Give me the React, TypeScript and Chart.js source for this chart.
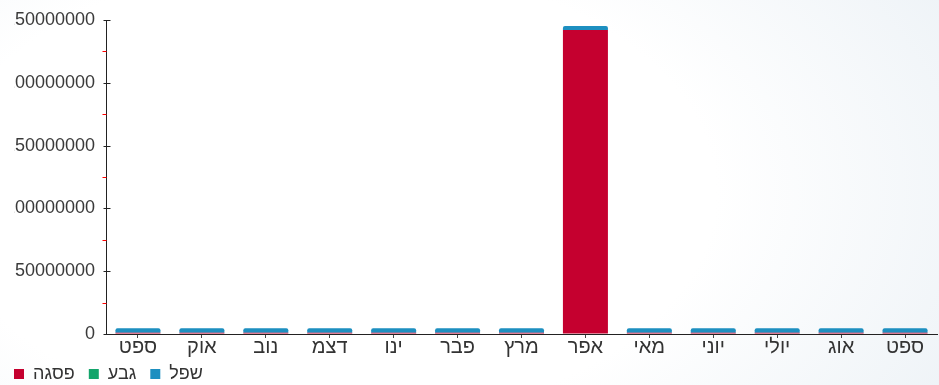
import React, { useEffect, useRef } from 'react';
import { Chart, registerables } from 'chart.js';

Chart.register(...registerables);

const months = ['ספט', 'אוק', 'נוב', 'דצמ', 'ינו', 'פבר', 'מרץ', 'אפר', 'מאי', 'יוני', 'יולי', 'אוג', 'ספט'];
const seriesLabels = ['פסגה', 'גבע', 'שפל'];
const peakValues = [1000000, 1000000, 1000000, 1000000, 1000000, 1000000, 1000000, 242000000, 1000000, 1000000, 1000000, 1000000, 1000000];
const shoulderValues = [0, 0, 0, 0, 0, 0, 0, 0, 0, 0, 0, 0, 0];
const offPeakValues = [3500000, 3500000, 3500000, 3500000, 3500000, 3500000, 3500000, 3300000, 3500000, 3500000, 3500000, 3500000, 3500000];
const yMax = 250000000;
const yStep = 25000000;
const yLabelStep = 50000000;

const seriesColors = ['#c5002f', '#13a56b', '#1d8fc0'];
const FONT = "'Liberation Sans', 'DejaVu Sans', sans-serif";
const LEGEND_TOP = 351;

const decorPlugin = {
  id: 'decor',
  afterLayout(chart: any) {
    const lg = chart.legend;
    if (lg) {
      const dy = LEGEND_TOP - lg.top;
      lg.top += dy;
      lg.bottom += dy;
    }
  },
  beforeDraw(chart: any) {
    const ctx = chart.ctx;
    ctx.save();
    ctx.beginPath();
    ctx.rect(14, 0, chart.width, chart.height);
    ctx.clip();
  },
  afterDraw(chart: any) {
    const ctx = chart.ctx;
    const ys = chart.scales.y;
    const ax = Math.round(chart.chartArea.left) + 0.5;
    ctx.lineWidth = 1;
    for (let v = 0; v <= yMax; v += yStep) {
      const py = Math.round(ys.getPixelForValue(v)) + 0.5;
      const major = v % yLabelStep === 0;
      ctx.strokeStyle = major ? '#222' : '#ff0000';
      ctx.beginPath();
      ctx.moveTo(major ? ax - 3 : ax - 4, py);
      ctx.lineTo(major ? ax + 4 : ax, py);
      ctx.stroke();
    }
    ctx.restore();
  },
};

export default function App() {
  const ref = useRef<HTMLCanvasElement | null>(null);

  useEffect(() => {
    if (!ref.current) return;
    const chart = new Chart(ref.current, {
      type: 'bar',
      data: {
        labels: months,
        datasets: [
          { label: seriesLabels[0], data: peakValues, backgroundColor: seriesColors[0], borderWidth: 0 },
          { label: seriesLabels[1], data: shoulderValues, backgroundColor: seriesColors[1], borderWidth: 0 },
          {
            label: seriesLabels[2],
            data: offPeakValues,
            backgroundColor: seriesColors[2],
            borderWidth: 0,
            borderRadius: { topLeft: 2, topRight: 2, bottomLeft: 0, bottomRight: 0 },
            borderSkipped: false,
          },
        ],
      },
      plugins: [decorPlugin],
      options: {
        animation: false,
        responsive: false,
        layout: { padding: { top: 20, right: 2, left: 0, bottom: 0 } },
        datasets: { bar: { categoryPercentage: 1, barPercentage: 0.704 } },
        scales: {
          x: {
            stacked: true,
            grid: { offset: false, drawOnChartArea: false, tickLength: 4, color: '#444' },
            border: { display: true, color: '#222', width: 1 },
            ticks: {
              font: { family: FONT, size: 20 },
              color: '#333',
              padding: -3,
              maxRotation: 0,
              autoSkip: false,
            },
            afterFit: (s: any) => { s.height = 40; },
          },
          y: {
            stacked: true,
            min: 0,
            max: yMax,
            grid: {
              drawOnChartArea: false,
              tickLength: 4,
              tickColor: 'rgba(0,0,0,0)',
            },
            border: { display: true, color: '#222', width: 1 },
            ticks: {
              stepSize: yStep,
              font: { family: FONT, size: 18 },
              color: '#3a3a3a',
              padding: 7,
              callback: (v: any) => (Number(v) % yLabelStep === 0 ? String(v) : ''),
            },
            afterFit: (s: any) => { s.width = 106; },
          },
        },
        plugins: {
          tooltip: { enabled: false },
          legend: {
            position: 'bottom',
            align: 'start',
            labels: {
              font: { family: FONT, size: 18 },
              color: '#333',
              boxWidth: 10,
              boxHeight: 10,
              padding: 14,
            },
          },
        },
      } as any,
    });
    return () => chart.destroy();
  }, []);

  return (
    <div
      style={{
        position: 'fixed',
        left: 0,
        top: 0,
        width: 939,
        height: 385,
        overflow: 'hidden',
        background: 'radial-gradient(ellipse 75% 110% at 35% 50%, #ffffff 55%, #eef3f7 100%)',
      }}
    >
      <canvas ref={ref} width={939} height={416} style={{ display: 'block', width: 939, height: 416 }} />
    </div>
  );
}
